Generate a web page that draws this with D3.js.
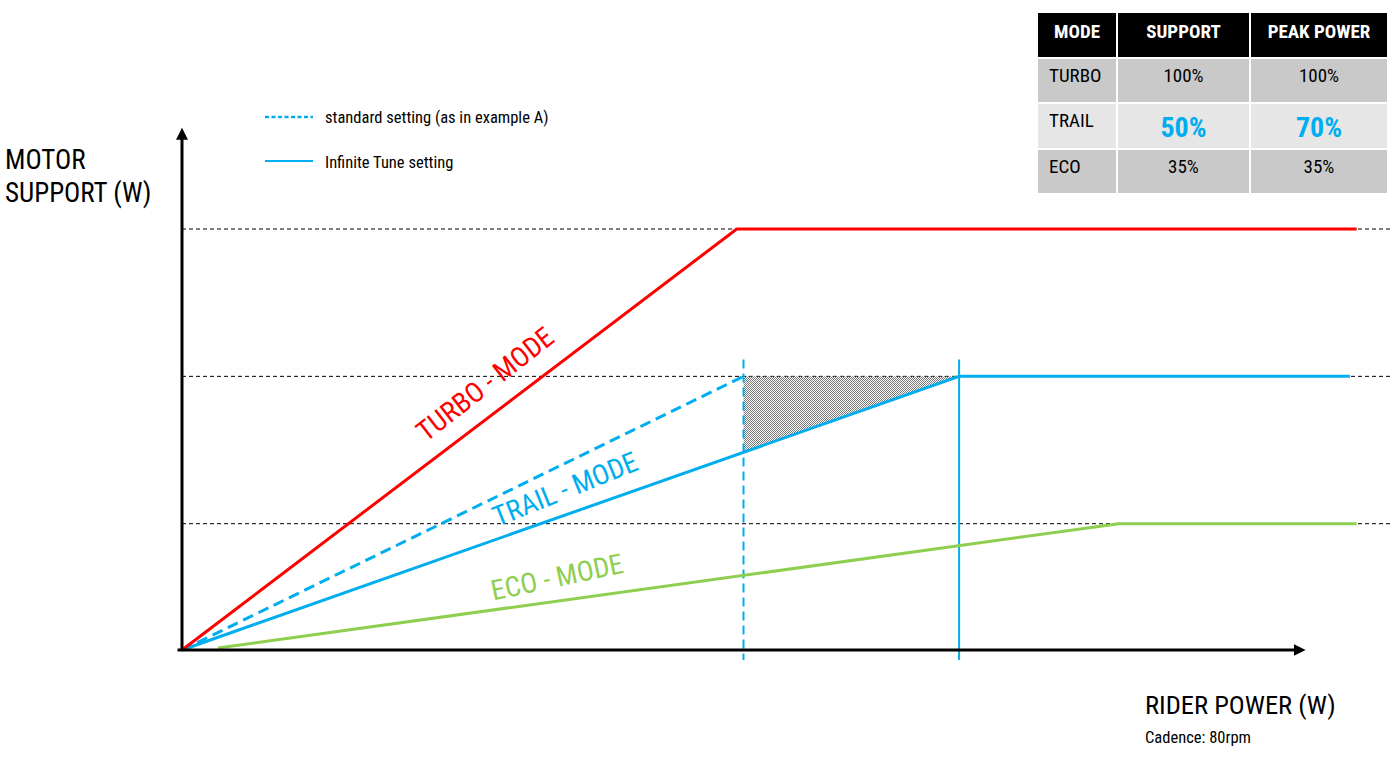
<!DOCTYPE html>
<html>
<head>
<meta charset="utf-8">
<script src="https://cdn.jsdelivr.net/npm/d3@7"></script>
<style>
  body { margin: 0; background: #fff; }
  svg text { font-family: "Roboto Condensed", "Liberation Sans Narrow", "DejaVu Sans Condensed", "Arial Narrow", sans-serif; }
</style>
</head>
<body>
<div id="chart"></div>
<script>
// rider power (W) on x, motor support (% of turbo peak) on y
var turbo = [[0, 0], [247, 100], [523, 100]];
var trailStandard = [[0, 0], [250, 65]];
var trailTune = [[0, 0], [346, 65], [520, 65]];
var eco = [[16, 0.5], [417, 30], [523, 30]];

var peakLevels = [100, 65, 30];
var kneeStandard = 250, kneeTune = 346;

var modeNames = ['TURBO', 'TRAIL', 'ECO'];
var supportValues = ['100%', '50%', '35%'];
var peakValues = ['100%', '70%', '35%'];
var tableHeaders = ['MODE', 'SUPPORT', 'PEAK POWER'];

var RED = '#ff0000', BLUE = '#00aeef', GREEN = '#8fcf4f';

var width = 1400, height = 759;
var svg = d3.select('#chart').append('svg')
  .attr('width', width)
  .attr('height', height);

var x = d3.scaleLinear().domain([0, 500]).range([182, 1305]);
var y = d3.scaleLinear().domain([0, 100]).range([650, 229]);

// hatch pattern for the gained area
var defs = svg.append('defs');
var pat = defs.append('pattern')
  .attr('id', 'hatch')
  .attr('width', 2).attr('height', 2)
  .attr('patternUnits', 'userSpaceOnUse');
pat.append('rect').attr('x', 0).attr('y', 0).attr('width', 1).attr('height', 1).attr('fill', '#777');
pat.append('rect').attr('x', 1).attr('y', 1).attr('width', 1).attr('height', 1).attr('fill', '#777');

defs.append('marker')
  .attr('id', 'arrow')
  .attr('viewBox', '0 0 10 10')
  .attr('refX', 1).attr('refY', 5)
  .attr('markerWidth', 4).attr('markerHeight', 4)
  .attr('orient', 'auto')
  .append('path')
    .attr('d', 'M0,0 L10,5 L0,10 z')
    .attr('fill', '#000');

// dashed reference lines at each peak level
svg.selectAll('.grid')
  .data(peakLevels)
  .enter()
  .append('line')
    .classed('grid', 1)
    .attr('x1', x(0)).attr('x2', x(538))
    .attr('y1', function(d){ return y(d); })
    .attr('y2', function(d){ return y(d); })
    .attr('stroke', '#000')
    .attr('stroke-width', 1)
    .attr('stroke-dasharray', '4,3');

// hatched triangle between standard and tuned trail curve
var tuneAtStd = 65 * kneeStandard / kneeTune;
svg.append('path')
  .attr('d', 'M' + x(kneeStandard) + ',' + y(65) +
             'L' + x(kneeTune) + ',' + y(65) +
             'L' + x(kneeStandard) + ',' + y(tuneAtStd) + 'Z')
  .attr('fill', 'url(#hatch)');

// vertical markers at the two trail knees
svg.append('line')
  .attr('x1', x(kneeStandard)).attr('x2', x(kneeStandard))
  .attr('y1', y(69)).attr('y2', y(-2.4))
  .attr('stroke', BLUE).attr('stroke-width', 2)
  .attr('stroke-dasharray', '9,5');
svg.append('line')
  .attr('x1', x(kneeTune)).attr('x2', x(kneeTune))
  .attr('y1', y(69)).attr('y2', y(-2.4))
  .attr('stroke', BLUE).attr('stroke-width', 2);

var line = d3.line()
  .x(function(d){ return x(d[0]); })
  .y(function(d){ return y(d[1]); });

var series = [
  { pts: eco, color: GREEN, dash: null },
  { pts: trailTune, color: BLUE, dash: null },
  { pts: trailStandard, color: BLUE, dash: '11,6' },
  { pts: turbo, color: RED, dash: null }
];

svg.selectAll('.mode')
  .data(series)
  .enter()
  .append('path')
    .classed('mode', 1)
    .attr('d', function(d){ return line(d.pts); })
    .attr('fill', 'none')
    .attr('stroke', function(d){ return d.color; })
    .attr('stroke-width', 3)
    .attr('stroke-dasharray', function(d){ return d.dash; });

// axes with arrow heads
svg.append('line')
  .attr('x1', x(-2)).attr('y1', y(0))
  .attr('x2', x(495.5)).attr('y2', y(0))
  .attr('stroke', '#000').attr('stroke-width', 3)
  .attr('marker-end', 'url(#arrow)');
svg.append('line')
  .attr('x1', x(0)).attr('y1', y(0))
  .attr('x2', x(0)).attr('y2', y(121.5))
  .attr('stroke', '#000').attr('stroke-width', 3)
  .attr('marker-end', 'url(#arrow)');

// mode labels along the curves
var labels = [
  { text: 'TURBO - MODE', color: RED, cx: 485, cy: 384, rot: -38 },
  { text: 'TRAIL - MODE', color: BLUE, cx: 565, cy: 489, rot: -22 },
  { text: 'ECO - MODE', color: GREEN, cx: 557, cy: 577, rot: -12 }
];
svg.selectAll('.modeLabel')
  .data(labels)
  .enter()
  .append('text')
    .classed('modeLabel', 1)
    .attr('transform', function(d){ return 'translate(' + d.cx + ',' + d.cy + ') rotate(' + d.rot + ')'; })
    .attr('text-anchor', 'middle')
    .attr('dy', '0.35em')
    .attr('fill', function(d){ return d.color; })
    .attr('font-size', 28)
    .text(function(d){ return d.text; });

// axis titles
svg.append('text').attr('x', 5).attr('y', 169).attr('font-size', 27).text('MOTOR');
svg.append('text').attr('x', 5).attr('y', 202).attr('font-size', 27).text('SUPPORT (W)');
svg.append('text').attr('x', 1145).attr('y', 714).attr('font-size', 26.5).text('RIDER POWER (W)');
svg.append('text').attr('x', 1145).attr('y', 743).attr('font-size', 16.5).text('Cadence: 80rpm');

// legend
svg.append('line')
  .attr('x1', 265).attr('x2', 313).attr('y1', 117).attr('y2', 117)
  .attr('stroke', BLUE).attr('stroke-width', 2.5).attr('stroke-dasharray', '4,2.5');
svg.append('text').attr('x', 325).attr('y', 123).attr('font-size', 16.5).text('standard setting (as in example A)');
svg.append('line')
  .attr('x1', 265).attr('x2', 313).attr('y1', 161).attr('y2', 161)
  .attr('stroke', BLUE).attr('stroke-width', 2);
svg.append('text').attr('x', 325).attr('y', 168).attr('font-size', 16.5).text('Infinite Tune setting');

// settings table
var colX = [1038, 1118, 1251], colW = [78, 131, 136];
var rowY = [13, 59, 104, 150], rowH = [44, 43, 44, 43];
var rowFill = ['#000', '#c9c9c9', '#e6e6e6', '#c9c9c9'];
var table = svg.append('g');

tableHeaders.forEach(function(h, c){
  table.append('rect')
    .attr('x', colX[c]).attr('y', rowY[0])
    .attr('width', colW[c]).attr('height', rowH[0])
    .attr('fill', rowFill[0]);
  table.append('text')
    .attr('x', colX[c] + colW[c] / 2).attr('y', rowY[0] + 18)
    .attr('text-anchor', 'middle').attr('dy', '0.35em')
    .attr('fill', '#fff').attr('font-weight', 'bold').attr('font-size', 19)
    .text(h);
});

modeNames.forEach(function(m, i){
  var r = i + 1;
  var big = (m === 'TRAIL');
  for (var c = 0; c < 3; c++) {
    table.append('rect')
      .attr('x', colX[c]).attr('y', rowY[r])
      .attr('width', colW[c]).attr('height', rowH[r])
      .attr('fill', rowFill[r]);
  }
  table.append('text')
    .attr('x', colX[0] + 11).attr('y', rowY[r] + 16)
    .attr('dy', '0.35em').attr('font-size', 19)
    .text(m);
  [supportValues[i], peakValues[i]].forEach(function(v, k){
    table.append('text')
      .attr('x', colX[k + 1] + colW[k + 1] / 2)
      .attr('y', rowY[r] + (big ? 23 : 16))
      .attr('text-anchor', 'middle').attr('dy', '0.35em')
      .attr('font-size', big ? 28 : 19)
      .attr('font-weight', big ? 'bold' : 'normal')
      .attr('fill', big ? BLUE : '#000')
      .text(v);
  });
});
</script>
</body>
</html>
